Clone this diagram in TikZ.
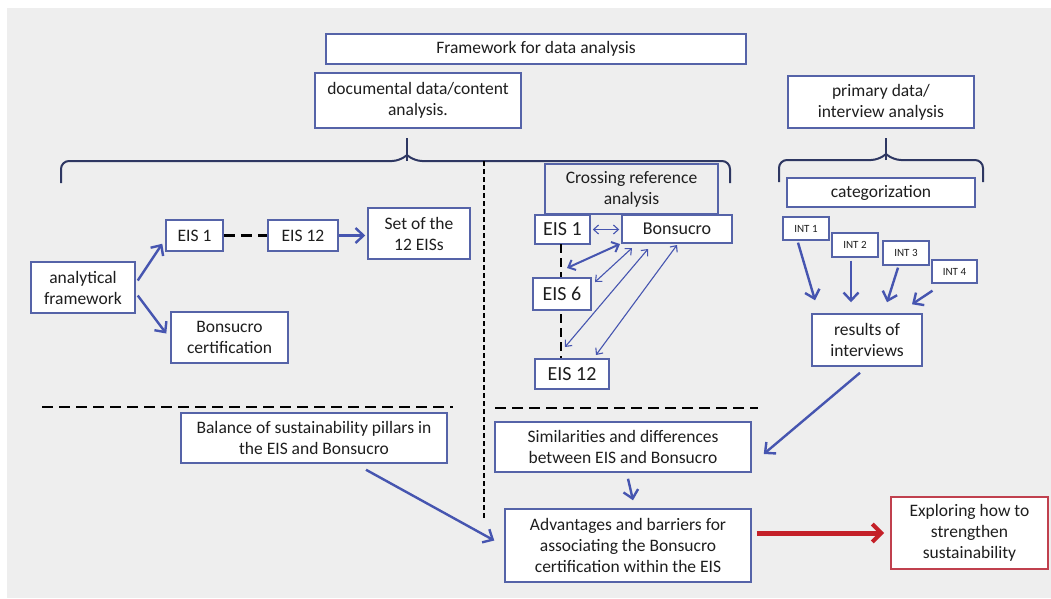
\documentclass[tikz,border=0pt]{standalone}
\usepackage{fontspec}
\setmainfont{Carlito}
\usetikzlibrary{arrows.meta,calc}
\definecolor{bgc}{HTML}{EEEEEE}
\definecolor{boxc}{HTML}{5563A8}
\definecolor{arrc}{HTML}{4655B0}
\definecolor{txtc}{HTML}{1E1E1E}
\definecolor{bracec}{HTML}{2E3762}
\definecolor{redc}{HTML}{C42028}
\definecolor{redbox}{HTML}{C0404E}
\tikzset{
  box/.style={draw=boxc, line width=1.5pt, fill=white, text=txtc, align=center, inner sep=1pt,
    font=\fontsize{17.5}{21}\selectfont},
  graybox/.style={box, fill=bgc},
  smallbox/.style={box, font=\fontsize{11}{13}\selectfont},
  bigbox/.style={box, font=\fontsize{20}{23}\selectfont},
  arr/.style={draw=arrc, line width=2.4pt, -{Straight Barb[length=8pt,width=15pt,line width=2.4pt]}},
  thinarr/.style={draw=arrc, line width=1.1pt, {Straight Barb[length=5pt,width=9pt]}-{Straight Barb[length=5pt,width=9pt]}},
  boldarr/.style={draw=arrc, line width=2pt, {Straight Barb[length=6pt,width=11pt]}-{Straight Barb[length=6pt,width=11pt]}},
  thickdash/.style={draw=black, line width=2.5pt, dash pattern=on 11pt off 6pt},
  thindash/.style={draw=black, line width=1.3pt, dash pattern=on 5pt off 3pt},
  bracestyle/.style={draw=bracec, line width=2pt, rounded corners=8pt},
}
\begin{document}
\begin{tikzpicture}[x=1pt,y=-1pt]
\useasboundingbox (0,0) rectangle (1051,598);
\fill[white] (0,0) rectangle (1051,598);
\fill[bgc] (7,8) rectangle (1051,598);

% braces
\draw[bracestyle] (61,183) -- (61,161) -- (400,161) -- (407,155);
\draw[draw=bracec, line width=2pt] (407,161) -- (407,138);
\draw[bracestyle] (407,155) -- (414,161) -- (730,161) -- (730,183);
\draw[bracestyle] (779,182) -- (779,160) -- (879,160) -- (886,154);
\draw[draw=bracec, line width=2pt] (886,160) -- (886,138);
\draw[bracestyle] (886,154) -- (893,160) -- (983,160) -- (983,182);

% dashed separators
\coordinate (vtop) at (484,161);
\coordinate (vbot) at (484,519);
\draw[thindash] (vtop) -- (vbot);
\coordinate (hl1) at (42,407);
\coordinate (hl2) at (453,407);
\coordinate (hr1) at (495,408);
\coordinate (hr2) at (758,408);
\draw[thickdash] (hl1) -- (hl2);
\draw[thickdash] (hr1) -- (hr2);

% top boxes
\node[box, minimum width=420, minimum height=30] (fw) at (536,49) {Framework for data analysis};
\node[box, minimum width=206, minimum height=55] (doc) at (418,100.5) {documental data/content\\analysis.};
\node[box, minimum width=186, minimum height=52] (prim) at (881,102) {primary data/\\interview analysis};
\node[graybox, minimum width=173, minimum height=50] (cross) at (631.5,189) {Crossing reference\\analysis};
\node[box, minimum width=188, minimum height=29] (cat) at (881,192.5) {categorization};

% left part
\node[box, minimum width=57, minimum height=31] (la1) at (194.5,235.5) {EIS 1};
\node[box, minimum width=70, minimum height=31] (la12) at (303,235.5) {EIS 12};
\node[box, minimum width=102, minimum height=51] (set) at (419,233.5) {Set of the\\12 EISs};
\node[box, minimum width=104, minimum height=51] (af) at (83,287.5) {analytical\\framework};
\node[box, minimum width=117, minimum height=51] (bcert) at (229.5,337.5) {Bonsucro\\certification};
\draw[thickdash] (la1.east) -- (la12.west);
\draw[arr] (la12.east) -- ([xshift=-2pt]set.west |- la12.east);
\draw[arr] ([xshift=2pt,yshift=7pt]af.east) -- ([xshift=-3pt,yshift=8pt]la1.south west);
\draw[arr] ([xshift=2pt,yshift=-8pt]af.east) -- ([xshift=-4pt,yshift=4pt]bcert.west);

% middle part
\node[bigbox, minimum width=55, minimum height=29] (m1) at (562.5,229.5) {EIS 1};
\node[box, font=\fontsize{18}{21}\selectfont, minimum width=110, minimum height=28] (bons) at (677,229) {Bonsucro};
\coordinate (dtop) at (561,244);
\coordinate (dbot) at (561,360);
\draw[thickdash, dash pattern=on 9pt off 5pt] (dtop) -- (dbot);
\node[bigbox, minimum width=58, minimum height=32] (m6) at (562,294) {EIS 6};
\node[bigbox, minimum width=74, minimum height=30] (m12) at (572,374) {EIS 12};
\draw[thinarr] ([xshift=2pt]m1.east) -- ([xshift=-2pt]m1.east -| bons.west);
\coordinate (a1s) at (567,268);
\coordinate (a1e) at (620,244);
\coordinate (a2s) at (595,282);
\coordinate (a2e) at (632,248);
\coordinate (a3s) at (565,347);
\coordinate (a3e) at (648,249);
\coordinate (a4s) at (596,355);
\coordinate (a4e) at (677,245);
\draw[boldarr] (a1s) -- (a1e);
\draw[thinarr] (a2s) -- (a2e);
\draw[thinarr] (a3s) -- (a3e);
\draw[thinarr] (a4s) -- (a4e);

% right part
\node[smallbox, line width=1.3pt, minimum width=46, minimum height=23] (i1) at (806,228.5) {INT 1};
\node[smallbox, line width=1.3pt, minimum width=46, minimum height=24] (i2) at (855,245) {INT 2};
\node[smallbox, line width=1.3pt, minimum width=46, minimum height=24] (i3) at (906,253) {INT 3};
\node[smallbox, line width=1.3pt, minimum width=45, minimum height=23] (i4) at (954.5,271.5) {INT 4};
\node[box, minimum width=110, minimum height=52] (res) at (867,340) {results of\\interviews};
\draw[arr] ([xshift=-8pt,yshift=-2pt]i1.south) -- ([xshift=-52pt,yshift=13pt]res.north);
\draw[arr] ([xshift=-4pt,yshift=-3pt]i2.south) -- ([xshift=-16pt,yshift=11pt]res.north);
\draw[arr] ([xshift=-8pt,yshift=-2pt]i3.south) -- ([xshift=20pt,yshift=11pt]res.north);
\draw[arr] ([xshift=-22pt,yshift=-7pt]i4.south) -- ([xshift=45pt,yshift=9pt]res.north);

% bottom part
\node[box, minimum width=266, minimum height=50] (bal) at (314,438) {Balance of sustainability pillars in\\the EIS and Bonsucro};
\node[box, minimum width=256, minimum height=50] (sim) at (623,447) {Similarities and differences\\between EIS and Bonsucro};
\node[box, minimum width=246, minimum height=73] (adv) at (628,545.5) {Advantages and barriers for\\associating the Bonsucro\\certification within the EIS};
\node[box, draw=redbox, line width=1.8pt, minimum width=157, minimum height=72] (expl) at (969.5,533) {Exploring how to\\strengthen\\sustainability};

\draw[arr] ([xshift=-7pt,yshift=-6pt]res.south) -- ([xshift=12pt,yshift=-7pt]sim.east);
\draw[arr] ([xshift=5pt,yshift=-6pt]sim.south) -- ([xshift=5pt,yshift=8pt]adv.north);
\draw[arr] ([xshift=52pt,yshift=-6pt]bal.south) -- ([xshift=-10pt,yshift=5pt]adv.west);
\draw[draw=redc, line width=5pt, -{Straight Barb[length=9pt,width=18pt,line width=4pt]}] ([xshift=5pt]adv.east |- expl.west) -- ([xshift=-6pt]expl.west);
\end{tikzpicture}
\end{document}
